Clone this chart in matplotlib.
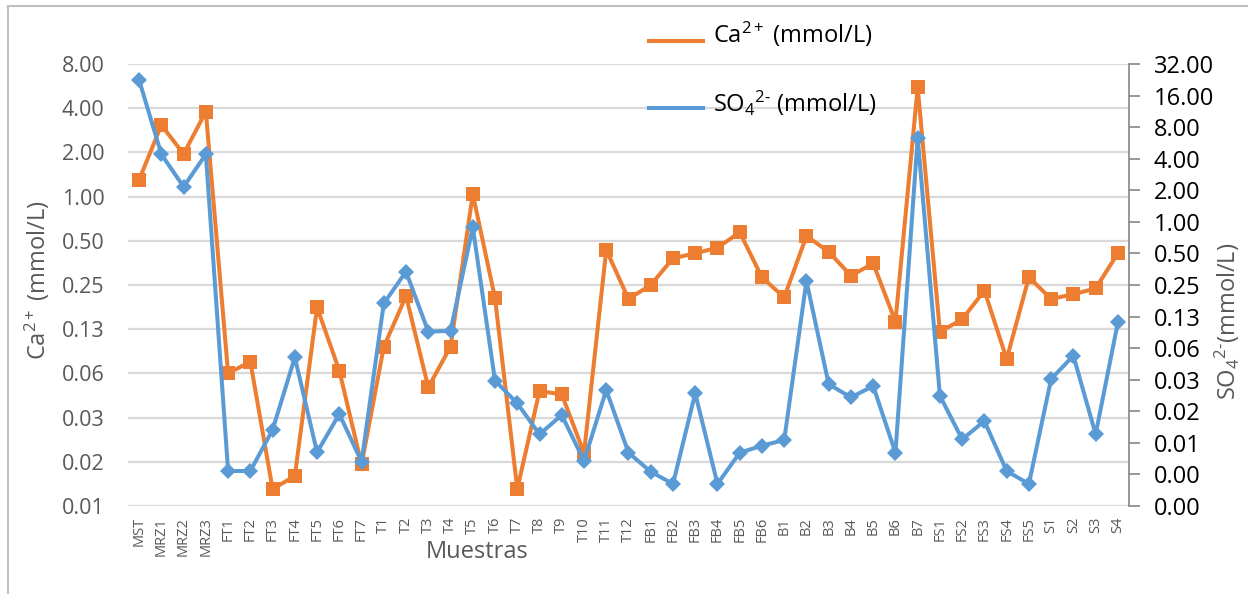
import matplotlib
matplotlib.use("Agg")
import matplotlib.pyplot as plt
from matplotlib.lines import Line2D
from matplotlib.patches import Rectangle
import numpy as np

samples = ["MST", "MRZ1", "MRZ2", "MRZ3",
           "FT1", "FT2", "FT3", "FT4", "FT5", "FT6", "FT7",
           "T1", "T2", "T3", "T4", "T5", "T6", "T7", "T8", "T9", "T10", "T11", "T12",
           "FB1", "FB2", "FB3", "FB4", "FB5", "FB6",
           "B1", "B2", "B3", "B4", "B5", "B6", "B7",
           "FS1", "FS2", "FS3", "FS4", "FS5",
           "S1", "S2", "S3", "S4"]

ca = [1.30, 3.07, 1.95, 3.79,
      0.0625, 0.0751, 0.0102, 0.0125, 0.176, 0.0652, 0.0150,
      0.0950, 0.210, 0.0503, 0.0950, 1.04, 0.203, 0.0102, 0.0474, 0.0450, 0.0179, 0.433, 0.201,
      0.250, 0.380, 0.411, 0.449, 0.571, 0.282,
      0.206, 0.539, 0.421, 0.289, 0.351, 0.141, 5.55,
      0.120, 0.146, 0.229, 0.0783, 0.282,
      0.201, 0.216, 0.237, 0.411]

so4 = [22.5, 4.41, 2.16, 4.41,
       0.00421, 0.00421, 0.0104, 0.0511, 0.00635, 0.0147, 0.00517,
       0.167, 0.335, 0.0897, 0.0916, 0.888, 0.0306, 0.0186, 0.00943, 0.0144, 0.00525, 0.0249, 0.00629,
       0.00415, 0.00317, 0.0232, 0.00317, 0.00629, 0.00734,
       0.00832, 0.273, 0.0283, 0.0212, 0.0272, 0.00629, 6.35,
       0.0220, 0.00844, 0.0126, 0.00421, 0.00317,
       0.0318, 0.0529, 0.00943, 0.110]

ca_tick_labels = ["0.01", "0.02", "0.03", "0.06", "0.13", "0.25",
                  "0.50", "1.00", "2.00", "4.00", "8.00"]
so4_tick_labels = ["0.00", "0.00", "0.01", "0.02", "0.03", "0.06", "0.13",
                   "0.25", "0.50", "1.00", "2.00", "4.00", "8.00", "16.00", "32.00"]

ORANGE = "#ED7D31"
BLUE = "#5B9BD5"
GRAY_TXT = "#595959"

plt.rcParams['font.family'] = ['Open Sans', 'DejaVu Sans']
plt.rcParams['mathtext.fontset'] = 'custom'
plt.rcParams['mathtext.rm'] = 'Open Sans'
plt.rcParams['mathtext.it'] = 'Open Sans:italic'
plt.rcParams['mathtext.bf'] = 'Open Sans:bold'

W, H = 1248, 594
fig = plt.figure(figsize=(W / 100, H / 100), dpi=100)
ax = fig.add_axes([128 / W, 1 - 506 / H, (1129 - 128) / W, (506 - 64) / H])
ax2 = ax.twinx()

x = np.arange(len(samples))

ax.plot(x, ca, color=ORANGE, lw=2.9, marker='s', markersize=10,
        markeredgewidth=0, zorder=3)
ax2.plot(x, so4, color=BLUE, lw=2.9, marker='D', markersize=8.5,
         markeredgewidth=0, zorder=3)

ax.set_yscale('log', base=2)
ax2.set_yscale('log', base=2)
ca_ticks = 2.0 ** np.arange(-7, 4)
so4_ticks = 2.0 ** np.arange(-9, 6)
ax.set_ylim(ca_ticks[0], ca_ticks[-1])
ax2.set_ylim(so4_ticks[0], so4_ticks[-1])
ax.set_yticks(ca_ticks)
ax.set_yticklabels(ca_tick_labels)
ax.yaxis.set_minor_locator(matplotlib.ticker.NullLocator())
ax2.set_yticks(so4_ticks)
ax2.set_yticklabels(so4_tick_labels)
ax2.yaxis.set_minor_locator(matplotlib.ticker.NullLocator())

ax.set_xlim(-0.5, len(samples) - 0.5)
ax.set_xticks(x)
ax.set_xticklabels(samples, rotation=90, fontsize=10.5, color=GRAY_TXT)
ax.tick_params(axis='x', length=0, pad=8)

ax.yaxis.grid(True, color='#d9d9d9', linewidth=1.6)
ax.set_axisbelow(True)
ax.tick_params(axis='y', length=0, pad=17, labelsize=15.5, labelcolor=GRAY_TXT)
ax2.tick_params(axis='y', length=8, width=1.2, color='#868686', pad=10,
                labelsize=17, labelcolor='black')

for s in ax.spines.values():
    s.set_visible(False)
for name, s in ax2.spines.items():
    s.set_visible(name == 'right')
ax2.spines['right'].set_color('#868686')
ax2.spines['right'].set_linewidth(1.2)

# axis titles
fig.text(37 / W, 1 - 280 / H, r"Ca$^{2+}$ (mmol/L)", rotation=90,
         ha='center', va='center', color=GRAY_TXT, fontsize=17)
fig.text(1227 / W, 1 - 321 / H, r"SO$_4$$^{2\text{-}}$(mmol/L)", rotation=90,
         ha='center', va='center', color=GRAY_TXT, fontsize=17)
fig.text(477 / W, 1 - 558 / H, "Muestras", ha='center', va='baseline',
         color=GRAY_TXT, fontsize=17)

# legend
for yy, col, lab, base in [(40.5, ORANGE, r"Ca$^{2+}$ (mmol/L)", 43),
                           (108.3, BLUE, r"SO$_4$$^{2\text{-}}$ (mmol/L)", 111.5)]:
    fig.add_artist(Line2D([649 / W, 703 / W], [1 - yy / H] * 2, color=col,
                          lw=2.9, transform=fig.transFigure))
    fig.text(713 / W, 1 - base / H, lab, ha='left', va='baseline',
             color='black', fontsize=17)

# outer chart border
fig.add_artist(Rectangle((8 / W, -0.1), 1.2, 1 - 6 / H + 0.1,
                         transform=fig.transFigure, fill=False,
                         edgecolor='#bfbfbf', lw=1.5))

fig.savefig("out.png", dpi=100)
